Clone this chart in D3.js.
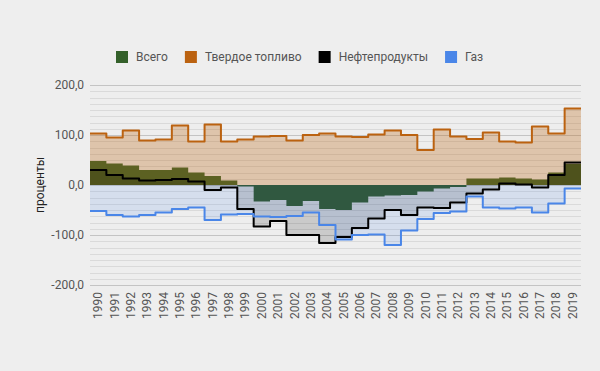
<!DOCTYPE html>
<html><head><meta charset="utf-8">
<script src="https://cdn.jsdelivr.net/npm/d3@7"></script>
<style>
html,body{margin:0;padding:0;background:#eeeeee;}
text{font-family:Roboto,"Noto Sans",sans-serif;}
</style></head>
<body><svg id="c" width="600" height="371"></svg>
<script>
const years = ["1990","1991","1992","1993","1994","1995","1996","1997","1998","1999","2000","2001","2002","2003","2004","2005","2006","2007","2008","2009","2010","2011","2012","2013","2014","2015","2016","2017","2018","2019"];
const vsego   = [48,43,39,30,30,35,25,18,9,-3,-33,-30,-42,-32,-48,-50,-35,-23,-21,-20,-13,-7,-4,13,13,15,13,11,25,42];
const tverdoe = [103,95,109,89,91,119,87,121,87,91,97,98,89,100,103,97,96,101,109,100,70,111,97,92,105,87,85,117,103,153];
const neft    = [30,20,13,9,10,12,7,-10,-5,-48,-83,-72,-100,-100,-116,-104,-86,-67,-50,-60,-45,-46,-35,-17,-9,3,1,-5,20,45];
const gaz     = [-52,-60,-63,-60,-55,-48,-45,-70,-59,-58,-63,-64,-62,-55,-80,-109,-100,-99,-120,-91,-68,-56,-53,-23,-45,-47,-45,-55,-37,-7];
const seriesNames = ["Всего","Твердое топливо","Нефтепродукты","Газ"];
const yTicks = [-200,-100,0,100,200];

const colors = ["#34602a","#bb6210","#000000","#4a86e8"];
const opac = [1,0.3,0.15,0.15];

const svg = d3.select("#c");
const L=90,R=581,T=85,B=285;
const x = d3.scaleBand().domain(years).range([L,R]).padding(0);
const y = d3.scaleLinear().domain([-200,200]).range([B,T]);

// grid
const g = svg.append("g");
const minor = d3.range(-200,200.01,12.5).filter(v=>v%100!==0);
g.selectAll(".mn").data(minor).enter().append("line")
  .attr("x1",L).attr("x2",R).attr("y1",d=>Math.round(y(d))+0.5).attr("y2",d=>Math.round(y(d))+0.5)
  .attr("stroke","#dadada").attr("stroke-width",1);
g.selectAll(".mj").data(yTicks).enter().append("line")
  .attr("x1",L).attr("x2",R).attr("y1",d=>Math.round(y(d))+0.5).attr("y2",d=>Math.round(y(d))+0.5)
  .attr("stroke","#c4c4c4").attr("stroke-width",1);

const data = [vsego,tverdoe,neft,gaz];
function pts(vals){
  const p = vals.map((v,i)=>[x(years[i]),y(v)]);
  p.push([x(years[years.length-1])+x.bandwidth(), y(vals[vals.length-1])]);
  return p;
}
const area = d3.area().x(d=>d[0]).y0(y(0)).y1(d=>d[1]).curve(d3.curveStepAfter);
const line = d3.line().x(d=>d[0]).y(d=>d[1]).curve(d3.curveStepAfter);

data.forEach((vals,k)=>{
  svg.append("path").attr("d",area(pts(vals))).attr("fill",colors[k]).attr("fill-opacity",opac[k]);
});
data.forEach((vals,k)=>{
  if(k===0) return;
  svg.append("path").attr("d",line(pts(vals))).attr("fill","none").attr("stroke",colors[k]).attr("stroke-width",2).attr("stroke-linejoin","round");
});

// y labels
const fmt = v=>d3.format(".1f")(v).replace(".",",").replace("−","-");
svg.selectAll(".yl").data(yTicks).enter().append("text")
  .attr("x",84).attr("y",d=>y(d)).attr("dy","0.35em").attr("text-anchor","end")
  .attr("font-size",12).attr("fill","#555").text(fmt);

// y title
svg.append("text").attr("transform","translate(44,185) rotate(-90)").attr("text-anchor","middle")
  .attr("font-size",12).attr("fill","#222").text("проценты");

// x labels
svg.selectAll(".xl").data(years).enter().append("text")
  .attr("transform",d=>`translate(${x(d)+x.bandwidth()/2+4},292) rotate(-90)`)
  .attr("text-anchor","end").attr("font-size",12).attr("fill","#555").text(d=>d);

// legend
const lg = svg.append("g");
let lx = 116;
seriesNames.forEach((n,k)=>{
  lg.append("rect").attr("x",lx).attr("y",51).attr("width",12).attr("height",12).attr("fill",colors[k]);
  const t = lg.append("text").attr("x",lx+20).attr("y",57).attr("dy","0.35em").attr("font-size",12).attr("fill","#555").text(n);
  lx += 20 + t.node().getComputedTextLength() + 17;
});
</script></body></html>
